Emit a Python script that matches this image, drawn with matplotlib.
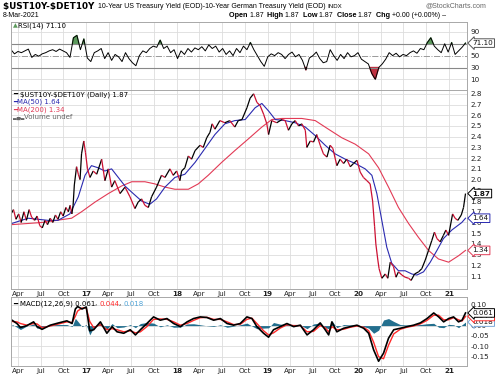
import numpy as np
import pandas as pd
import matplotlib
matplotlib.use("Agg")
import matplotlib.pyplot as plt
import matplotlib.dates as mdates
import matplotlib.transforms as mtrans
from matplotlib.collections import LineCollection

plt.rcParams["text.parse_math"] = False

W, H = 500, 379

# ---- values ----
price_dates = [
    "2016-03-04", "2016-03-14", "2016-03-24", "2016-04-04", "2016-04-14", "2016-04-25",
    "2016-05-05", "2016-05-16", "2016-05-26", "2016-06-07", "2016-06-17", "2016-06-28",
    "2016-07-08", "2016-07-19", "2016-07-29", "2016-08-09", "2016-08-19", "2016-08-30",
    "2016-09-09", "2016-09-20", "2016-09-30", "2016-10-11", "2016-10-21", "2016-10-28",
    "2016-11-04", "2016-11-09", "2016-11-14", "2016-11-23", "2016-11-30", "2016-12-07",
    "2016-12-13", "2016-12-22", "2016-12-29", "2017-01-06", "2017-01-16", "2017-01-29",
    "2017-02-12", "2017-03-04", "2017-03-17", "2017-03-31", "2017-04-13", "2017-04-26",
    "2017-05-17", "2017-06-06", "2017-06-26", "2017-07-16", "2017-07-29", "2017-08-12",
    "2017-08-25", "2017-09-08", "2017-09-21", "2017-10-11", "2017-10-31", "2017-11-14",
    "2017-12-04", "2017-12-17", "2017-12-31", "2018-01-13", "2018-01-20", "2018-02-02",
    "2018-02-16", "2018-03-01", "2018-03-15", "2018-04-04", "2018-04-17", "2018-05-01",
    "2018-05-14", "2018-05-23", "2018-06-03", "2018-06-23", "2018-07-13", "2018-08-02",
    "2018-08-22", "2018-09-05", "2018-09-20", "2018-10-10", "2018-10-23", "2018-11-06",
    "2018-11-19", "2018-12-02", "2018-12-16", "2018-12-29", "2019-01-05", "2019-01-18",
    "2019-02-07", "2019-02-28", "2019-03-13", "2019-03-26", "2019-04-09", "2019-04-22",
    "2019-05-06", "2019-05-19", "2019-06-02", "2019-06-08", "2019-06-22", "2019-07-05",
    "2019-07-18", "2019-08-01", "2019-08-14", "2019-08-28", "2019-09-10", "2019-09-21",
    "2019-10-07", "2019-10-20", "2019-11-03", "2019-11-16", "2019-11-30", "2019-12-13",
    "2019-12-27", "2020-01-09", "2020-01-22", "2020-02-05", "2020-02-18", "2020-02-28",
    "2020-03-07", "2020-03-12", "2020-03-20", "2020-03-25", "2020-04-05", "2020-04-19",
    "2020-04-29", "2020-05-09", "2020-05-22", "2020-06-01", "2020-06-11", "2020-06-25",
    "2020-07-08", "2020-07-22", "2020-08-01", "2020-08-15", "2020-08-31", "2020-09-13",
    "2020-09-27", "2020-10-10", "2020-10-23", "2020-11-03", "2020-11-13", "2020-11-26",
    "2020-12-09", "2020-12-19", "2020-12-30", "2021-01-15", "2021-01-25", "2021-02-05",
    "2021-02-19", "2021-02-28", "2021-03-08",
]
price = [
    1.68, 1.72, 1.63, 1.68, 1.60, 1.70,
    1.62, 1.72, 1.65, 1.62, 1.66, 1.57,
    1.55, 1.62, 1.58, 1.64, 1.60, 1.67,
    1.63, 1.70, 1.66, 1.74, 1.70, 1.76,
    1.68, 1.76, 1.95, 2.12, 2.05, 2.00,
    2.24, 2.36, 2.25, 2.10, 2.02, 2.08,
    2.05, 2.19, 1.99, 2.10, 1.93, 1.99,
    1.87, 1.93, 1.84, 1.73, 1.79, 1.82,
    1.76, 1.74, 1.84, 1.93, 2.04, 2.02,
    2.10, 2.04, 2.08, 1.99, 2.08, 2.11,
    2.22, 2.19, 2.27, 2.32, 2.30, 2.39,
    2.44, 2.52, 2.47, 2.55, 2.53, 2.55,
    2.49, 2.55, 2.56, 2.67, 2.76, 2.80,
    2.72, 2.69, 2.61, 2.52, 2.42, 2.55,
    2.53, 2.56, 2.55, 2.46, 2.52, 2.55,
    2.50, 2.52, 2.46, 2.30, 2.36, 2.35,
    2.42, 2.32, 2.24, 2.21, 2.32, 2.29,
    2.13, 2.19, 2.15, 2.19, 2.12, 2.15,
    2.18, 2.07, 2.02, 1.99, 1.96, 1.80,
    1.56, 1.40, 1.25, 1.17, 1.08, 1.12,
    1.08, 1.23, 1.19, 1.09, 1.14, 1.11,
    1.09, 1.08, 1.06, 1.12, 1.14, 1.17,
    1.25, 1.34, 1.43, 1.51, 1.45, 1.42,
    1.48, 1.53, 1.48, 1.68, 1.64, 1.62,
    1.67, 1.74, 1.87,
]

ma50_dates = [
    "2016-03-06", "2016-05-12", "2016-07-31", "2016-09-09", "2016-10-27", "2016-11-30",
    "2016-12-27", "2017-01-22", "2017-02-18", "2017-03-17", "2017-04-13", "2017-05-10",
    "2017-06-06", "2017-07-09", "2017-08-12", "2017-09-14", "2017-10-11", "2017-11-14",
    "2017-12-24", "2018-02-02", "2018-03-15", "2018-04-24", "2018-06-03", "2018-07-13",
    "2018-08-22", "2018-10-03", "2018-11-12", "2018-12-09", "2019-01-05", "2019-02-01",
    "2019-03-13", "2019-04-22", "2019-06-02", "2019-07-12", "2019-08-21", "2019-09-30",
    "2019-11-10", "2019-12-20", "2020-01-29", "2020-02-25", "2020-03-16", "2020-04-05",
    "2020-04-25", "2020-05-15", "2020-06-11", "2020-07-08", "2020-08-04", "2020-08-24",
    "2020-09-20", "2020-10-17", "2020-11-13", "2020-12-09", "2021-01-12", "2021-02-21",
    "2021-03-08",
]
ma50 = [
    1.59, 1.64, 1.62, 1.62, 1.68, 1.84,
    2.04, 2.13, 2.11, 2.08, 2.10, 2.02,
    1.94, 1.87, 1.80, 1.77, 1.82, 1.93,
    2.02, 2.05, 2.16, 2.29, 2.42, 2.52,
    2.55, 2.56, 2.67, 2.71, 2.64, 2.56,
    2.55, 2.53, 2.49, 2.41, 2.32, 2.24,
    2.19, 2.15, 2.10, 2.04, 1.87, 1.62,
    1.37, 1.22, 1.15, 1.15, 1.12, 1.11,
    1.14, 1.23, 1.34, 1.45, 1.53, 1.60,
    1.64,
]

ma200_dates = [
    "2016-03-06", "2016-07-05", "2016-11-03", "2016-12-13", "2017-02-05", "2017-03-31",
    "2017-05-23", "2017-07-03", "2017-08-25", "2017-10-04", "2017-11-14", "2017-12-24",
    "2018-02-16", "2018-03-28", "2018-05-07", "2018-06-30", "2018-08-22", "2018-10-16",
    "2018-12-09", "2019-01-18", "2019-02-28", "2019-05-19", "2019-07-12", "2019-09-03",
    "2019-10-27", "2019-12-20", "2020-02-12", "2020-03-23", "2020-05-02", "2020-06-11",
    "2020-07-22", "2020-08-31", "2020-10-10", "2020-11-19", "2020-12-30", "2021-02-08",
    "2021-03-08",
]
ma200 = [
    1.58, 1.60, 1.64, 1.70, 1.79, 1.87,
    1.94, 1.98, 1.98, 1.96, 1.93, 1.91,
    1.91, 1.96, 2.04, 2.16, 2.27, 2.38,
    2.49, 2.56, 2.57, 2.57, 2.55, 2.47,
    2.39, 2.33, 2.24, 2.11, 1.93, 1.74,
    1.59, 1.46, 1.34, 1.26, 1.23, 1.29,
    1.34,
]

# RSI(14), read roughly every two weeks from 2016-03-04 to 2021-03-08
rsi_start, rsi_end = "2016-03-04", "2021-03-08"
rsi = [
    60, 53, 57, 55, 58, 61, 47, 52, 49, 53, 55, 58, 60, 57, 61, 58, 55, 47,
    80, 84, 60, 78,
    46, 40, 55, 58, 62, 45, 55, 42, 52, 48, 40, 55, 45, 38, 33,
    50, 58, 55, 62, 66, 64, 76, 62, 66, 55, 60, 45, 58, 52, 62, 56, 63, 60, 65,
    58, 68, 62, 66, 56, 62, 52, 58, 50, 62, 55, 66, 60, 72, 60, 50, 40, 32,
    48, 53, 50, 55, 52, 45, 52, 56, 48, 52, 42, 26, 46, 50, 56, 45, 38, 40,
    60, 50, 42, 52, 45, 55, 48, 50, 55, 44, 40, 36, 20, 10,
    30, 36, 44, 55, 50, 54, 48, 52, 50, 55, 58, 54, 62, 60, 72, 80, 66, 60,
    55, 70, 56, 72, 52, 58, 64, 71.1,
]

macd_dates = [
    "2016-03-08", "2016-03-28", "2016-04-11", "2016-05-07", "2016-06-03", "2016-06-17",
    "2016-07-07", "2016-08-09", "2016-09-12", "2016-10-15", "2016-11-05", "2016-11-18",
    "2016-11-27", "2016-12-15", "2017-01-01", "2017-01-15", "2017-01-31", "2017-02-27",
    "2017-03-25", "2017-04-15", "2017-05-05", "2017-06-01", "2017-06-27", "2017-07-18",
    "2017-08-07", "2017-09-02", "2017-09-29", "2017-10-26", "2017-11-22", "2017-12-19",
    "2018-01-15", "2018-02-11", "2018-03-09", "2018-04-05", "2018-05-02", "2018-05-29",
    "2018-06-25", "2018-07-22", "2018-08-17", "2018-09-13", "2018-10-10", "2018-10-30",
    "2018-11-19", "2018-12-16", "2019-01-05", "2019-01-25", "2019-02-21", "2019-03-20",
    "2019-04-16", "2019-05-13", "2019-06-09", "2019-07-05", "2019-08-01", "2019-08-21",
    "2019-09-04", "2019-09-17", "2019-10-07", "2019-11-03", "2019-11-30", "2019-12-27",
    "2020-01-23", "2020-02-12", "2020-03-03", "2020-03-23", "2020-04-12", "2020-05-02",
    "2020-05-23", "2020-06-18", "2020-07-15", "2020-08-11", "2020-09-07", "2020-10-04",
    "2020-10-31", "2020-11-20", "2020-12-10", "2020-12-30", "2021-01-19", "2021-02-08",
    "2021-02-22", "2021-03-08",
]
macd = [
    0.026, 0.010, -0.009, 0.000, 0.018, -0.005,
    -0.018, 0.002, 0.013, 0.023, 0.010, 0.080,
    0.092, 0.080, 0.090, -0.025, -0.020, 0.018,
    -0.037, -0.005, -0.030, -0.037, -0.020, -0.045,
    -0.020, 0.010, 0.042, 0.026, 0.034, 0.010,
    -0.005, 0.018, 0.034, 0.042, 0.039, 0.026,
    0.034, 0.010, 0.002, 0.010, 0.042, 0.034,
    -0.005, -0.037, -0.056, -0.020, -0.005, 0.010,
    -0.005, 0.002, -0.045, -0.020, 0.013, -0.020,
    -0.045, 0.018, -0.030, -0.013, -0.005, 0.002,
    -0.013, -0.037, -0.117, -0.172, -0.133, -0.061,
    -0.020, -0.013, -0.005, 0.002, 0.013, 0.034,
    0.061, 0.042, 0.018, 0.034, 0.042, 0.018,
    0.026, 0.061,
]
signal = [
    0.020, 0.018, 0.010, 0.002, 0.010, 0.008,
    -0.010, -0.002, 0.008, 0.018, 0.015, 0.045,
    0.070, 0.085, 0.085, 0.020, -0.010, 0.005,
    -0.020, -0.015, -0.020, -0.030, -0.025, -0.035,
    -0.030, -0.005, 0.030, 0.032, 0.030, 0.018,
    0.002, 0.010, 0.025, 0.038, 0.040, 0.030,
    0.030, 0.018, 0.005, 0.006, 0.030, 0.036,
    0.010, -0.025, -0.045, -0.035, -0.012, 0.004,
    0.000, 0.000, -0.030, -0.028, 0.000, -0.010,
    -0.030, -0.005, -0.020, -0.018, -0.008, -0.002,
    -0.008, -0.025, -0.080, -0.150, -0.160, -0.095,
    -0.040, -0.018, -0.008, -0.002, 0.008, 0.025,
    0.050, 0.050, 0.028, 0.028, 0.038, 0.028,
    0.022, 0.044,
]

month_ticks = pd.date_range("2016-04-01", "2021-01-01", freq="QS")
main_ticks = [1.1, 1.2, 1.3, 1.4, 1.5, 1.6, 1.7, 1.8, 1.9, 2.0,
              2.1, 2.2, 2.3, 2.4, 2.5, 2.6, 2.7, 2.8]
rsi_ticks = [10, 30, 50, 70, 90]
rsi_labels = ["10", "30", "50", "", "90"]      # 70 sits under the RSI tag
macd_ticks = [0.10, 0.05, 0.00, -0.05, -0.10, -0.15]
macd_labels = ["0.10", "", "0.00", "-0.05", "-0.10", "-0.15"]

UP, DOWN = "black", "#cc1133"
BLUE, PINK = "#2a2ab0", "#e23a55"
HIST = "#236f8e"
GRID = "#dddddd"

fig = plt.figure(figsize=(W / 100, H / 100), dpi=100)


def box(l, t, r, b):
    return [l / W, 1 - b / H, (r - l) / W, (b - t) / H]


ax_r = fig.add_axes(box(11, 22, 467, 89.5))
ax = fig.add_axes(box(11, 89.5, 467, 289))
ax_m = fig.add_axes(box(11, 297, 467, 366))

x0 = mdates.date2num(pd.Timestamp("2016-03-04"))
x1 = mdates.date2num(pd.Timestamp("2021-03-14"))


def style(a, labels=True):
    a.set_xlim(x0, x1)
    a.set_xticks(mdates.date2num(month_ticks))
    a.set_xticklabels([d.strftime("%y") if d.month == 1 else d.strftime("%b")
                       for d in month_ticks])
    for lab, d in zip(a.get_xticklabels(), month_ticks):
        if d.month == 1:
            lab.set_fontweight("bold")
    a.yaxis.tick_right()
    a.tick_params(length=0, labelsize=5.2, colors="#222222", pad=2.5)
    a.tick_params(axis="x", labelbottom=labels, pad=1.5)
    for s in a.spines.values():
        s.set_color("#a8a8a8")
        s.set_linewidth(0.7)
    a.set_axisbelow(True)


# ---- RSI panel ----
style(ax_r, labels=False)
rd = mdates.date2num(pd.date_range(rsi_start, rsi_end, periods=len(rsi)))
rv = np.array(rsi)
ax_r.grid(axis="x", color=GRID, lw=0.6)
for lvl in (10, 90):
    ax_r.axhline(lvl, color=GRID, lw=0.6)
for lvl in (30, 70):
    ax_r.axhline(lvl, color="#888888", lw=0.8)
ax_r.axhline(50, color="#999999", lw=0.7, ls="-.")
ax_r.fill_between(rd, rv, 70, where=rv > 70, interpolate=True, color="#5c9a5c")
ax_r.fill_between(rd, rv, 30, where=rv < 30, interpolate=True, color="#c03040")
ax_r.plot(rd, rv, color="black", lw=0.7)
ax_r.set_ylim(-7, 106.6)
ax_r.set_yticks(rsi_ticks)
ax_r.set_yticklabels(rsi_labels)

# ---- price panel ----
style(ax)
ax.grid(True, color=GRID, lw=0.6)
pd_num = mdates.date2num(pd.to_datetime(price_dates))
pv = np.array(price)
pts = np.column_stack([pd_num, pv])
segs = np.stack([pts[:-1], pts[1:]], axis=1)
cols = np.where(np.diff(pv) >= 0, UP, DOWN)
ax.plot(mdates.date2num(pd.to_datetime(ma200_dates)), ma200, color=PINK, lw=0.8)
ax.plot(mdates.date2num(pd.to_datetime(ma50_dates)), ma50, color=BLUE, lw=0.8)
ax.add_collection(LineCollection(segs, colors=cols, linewidths=0.9))
ax.set_ylim(0.98, 2.84)
ax.set_yticks(main_ticks)
ax.set_yticklabels(["%.1f" % t for t in main_ticks])

# ---- MACD panel ----
style(ax_m)
ax_m.grid(True, color=GRID, lw=0.6)
md = mdates.date2num(pd.to_datetime(macd_dates))
mv = np.array(macd)
sv = np.array(signal)
ax_m.fill_between(md, mv - sv, 0, color=HIST, lw=0)
ax_m.plot(md, sv, color="#ff2a2a", lw=1.0)
ax_m.plot(md, mv, color="black", lw=1.2)
ax_m.set_ylim(-0.195, 0.138)
ax_m.set_yticks(macd_ticks)
ax_m.set_yticklabels(macd_labels)


# ---- value tags on the right edge ----
def tag(a, v, txt, ec, bold=False):
    tr = mtrans.blended_transform_factory(a.transAxes, a.transData)
    a.text(1.012, v, txt, transform=tr, ha="left", va="center", fontsize=5.2,
           fontweight="bold" if bold else "normal", color="#111111", zorder=10,
           bbox=dict(boxstyle="larrow,pad=0.18", fc="white", ec=ec, lw=0.7),
           clip_on=False)


tag(ax_r, rsi[-1], "71.10", "#555555")
tag(ax, ma200[-1], "1.34", PINK)
tag(ax, ma50[-1], "1.64", BLUE)
tag(ax, price[-1], "1.87", "black", bold=True)
tag(ax_m, macd[-1] - signal[-1], "0.018", "#7aa7d8")
tag(ax_m, signal[-1], "0.044", "#ff2a2a")
tag(ax_m, macd[-1], "0.061", "black")

# ---- text rows ----
rend = fig.canvas.get_renderer()


def row(x, y, pieces):
    for txt, kw in pieces:
        t = fig.text(x / W, 1 - y / H, txt, va="center", ha="left", **kw)
        x += t.get_window_extent(renderer=rend).width


B = dict(fontweight="bold")
LS = dict(family="Liberation Sans")
row(3, 6, [("$UST10Y-$DET10Y ", dict(fontsize=6.4, **B)),
           ("10-Year US Treasury Yield (EOD)-10-Year German Treasury Yield (EOD) ",
            dict(fontsize=5.0, **LS)),
           ("INDX", dict(fontsize=4.4, **LS))])
row(425, 6, [("@StockCharts.com", dict(fontsize=5.0, color="#666666", **LS))])
row(3, 15.5, [("8-Mar-2021", dict(fontsize=5.0, **LS))])
hdr = []
for lab, val in [("Open", "1.87"), ("High", "1.87"), ("Low", "1.87"), ("Close", "1.87")]:
    hdr.append((lab + " ", dict(fontsize=5.2, **B, **LS)))
    hdr.append((val + "  ", dict(fontsize=5.0, **LS)))
hdr.append(("Chg ", dict(fontsize=5.2, **B, **LS)))
hdr.append(("+0.00 (+0.00%) \u2013", dict(fontsize=5.0, **LS)))
row(229, 15.5, hdr)

L = dict(fontsize=5.0)
row(13, 26, [("\u25b2", dict(fontsize=4.5, color="#5c9a5c")),
             ("RSI(14) 71.10", L)])
row(13, 94.5, [("\u2501 ", dict(fontsize=5.0, color="black")),
               ("$UST10Y-$DET10Y (Daily) 1.87", L)])
row(13, 102, [("\u2501", dict(fontsize=5.0, color=BLUE)),
              ("MA(50) 1.64", dict(fontsize=5.0, color=BLUE))])
row(13, 109.5, [("\u2501", dict(fontsize=5.0, color=PINK)),
                ("MA(200) 1.34", dict(fontsize=5.0, color=PINK))])
row(13, 117, [("\u2583\u2585\u2583", dict(fontsize=3.5, color="#666666")),
              ("Volume undef", dict(fontsize=5.0, color="#666666"))])
row(13, 303.5, [("\u2501 ", dict(fontsize=5.0, color="black")),
                ("MACD(12,26,9) 0.061", L), (", ", L),
                ("0.044", dict(fontsize=5.0, color="#ff2a2a")), (", ", L),
                ("0.018", dict(fontsize=5.0, color="#52a5d8"))])

fig.savefig("out.png", dpi=100)
